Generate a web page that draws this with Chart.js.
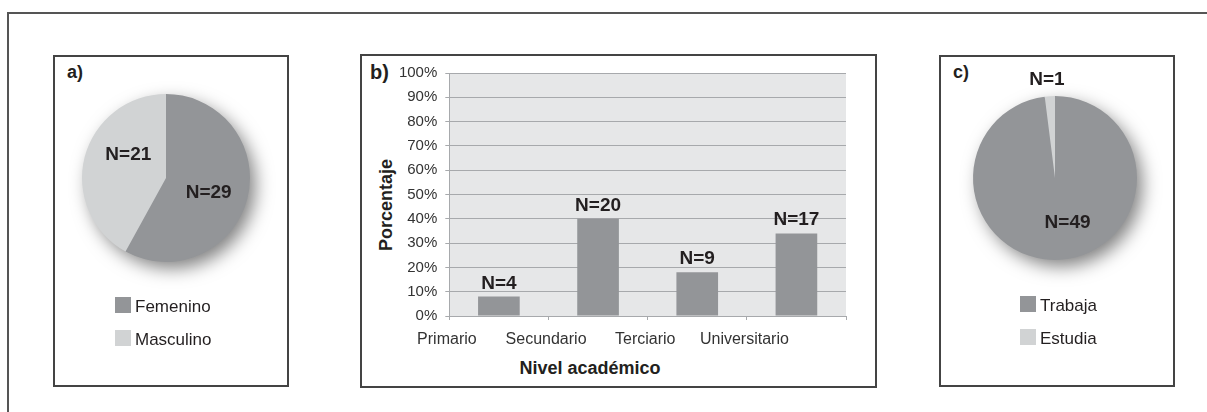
<!DOCTYPE html>
<html>
<head>
<meta charset="utf-8">
<script src="https://cdn.jsdelivr.net/npm/chart.js@4.4.0/dist/chart.umd.min.js"></script>
<style>
  body { margin: 0; width: 1207px; height: 412px; position: relative; overflow: hidden; background: #fff;
         font-family: "Liberation Sans", Arial, sans-serif; color: #231f20; }
  .frame { position: absolute; left: 7px; top: 12px; width: 1220px; height: 420px;
           border-top: 2px solid #555; border-left: 2px solid #555; }
  .panel { position: absolute; border: 2px solid #444; box-sizing: border-box; }
  .bold { position: absolute; font-weight: bold; line-height: 1; white-space: nowrap; }
  canvas { position: absolute; }
  .legend { position: absolute; font-size: 17px; line-height: 1; }
  .legend .row { position: relative; height: 33px; }
  .legend .sw { position: absolute; left: 0; top: 0; width: 16px; height: 16px; }
  .legend .tx { position: absolute; left: 20px; top: 1px; white-space: nowrap; }
</style>
</head>
<body>
<div class="frame"></div>

<div class="panel" style="left:53px;top:55px;width:236px;height:332px"></div>
<div class="panel" style="left:360px;top:54px;width:517px;height:334px"></div>
<div class="panel" style="left:939px;top:55px;width:236px;height:332px"></div>

<div class="bold" style="left:67px;top:63px;font-size:18px">a)</div>
<div class="bold" style="left:370px;top:62px;font-size:20px">b)</div>
<div class="bold" style="left:953px;top:63px;font-size:18px">c)</div>

<div class="bold" style="left:386px;top:205px;font-size:18px;transform:translate(-50%,-50%) rotate(-90deg)">Porcentaje</div>
<div class="bold" style="left:590px;top:359px;font-size:18px;transform:translateX(-50%)">Nivel académico</div>

<canvas id="pieSex" width="240" height="240" style="left:46px;top:58px;width:240px;height:240px"></canvas>
<canvas id="barLevel" width="510" height="300" style="left:362px;top:56px;width:510px;height:300px"></canvas>
<canvas id="pieWork" width="240" height="240" style="left:935px;top:58px;width:240px;height:240px"></canvas>

<div class="legend" id="legendSex" style="left:115px;top:297px"></div>
<div class="legend" id="legendWork" style="left:1020px;top:296px"></div>

<script>
// ---- data ----
const sexLabels = ['Femenino', 'Masculino'];
const sexCounts = [29, 21];

const levelLabels = ['Primario', 'Secundario', 'Terciario', 'Universitario'];
const levelPercent = [8, 40, 18, 34];
const levelCounts = [4, 20, 9, 17];

const workLabels = ['Trabaja', 'Estudia'];
const workCounts = [49, 1];

const pctTicks = [0, 10, 20, 30, 40, 50, 60, 70, 80, 90, 100];

const DARK = '#939598';
const LIGHT = '#d1d3d4';
const GRID = '#a7a9ac';

Chart.defaults.font.family = '"Liberation Sans", Arial, sans-serif';
Chart.defaults.color = '#333';
Chart.defaults.animation = false;

// soft shadow behind the whole pie
const pieShadow = {
  id: 'pieShadow',
  beforeDatasetsDraw(chart) {
    const el = chart.getDatasetMeta(0).data[0];
    const ctx = chart.ctx;
    ctx.save();
    ctx.shadowColor = 'rgba(0,0,0,0.5)';
    ctx.shadowBlur = 18;
    ctx.shadowOffsetX = 6;
    ctx.shadowOffsetY = 7;
    ctx.fillStyle = DARK;
    ctx.beginPath();
    ctx.arc(el.x, el.y, el.outerRadius - 1, 0, Math.PI * 2);
    ctx.fill();
    ctx.restore();
  }
};

// "N=.." labels on slices / above bars
const nLabels = {
  id: 'nLabels',
  afterDatasetsDraw(chart, args, opts) {
    const ctx = chart.ctx;
    const meta = chart.getDatasetMeta(0);
    ctx.save();
    ctx.font = 'bold 19px "Liberation Sans", Arial, sans-serif';
    ctx.fillStyle = '#231f20';
    ctx.textAlign = 'center';
    meta.data.forEach((el, i) => {
      const text = 'N=' + opts.counts[i];
      if (opts.pos) {
        const p = opts.pos[i];
        const mid = (el.startAngle + el.endAngle) / 2;
        const r = el.outerRadius * p.r;
        ctx.textBaseline = 'middle';
        ctx.fillText(text, el.x + Math.cos(mid) * r + p.dx, el.y + Math.sin(mid) * r + p.dy);
      } else {
        ctx.textBaseline = 'alphabetic';
        ctx.fillText(text, el.x, el.y - 8);
      }
    });
    ctx.restore();
  }
};

const plotBg = {
  id: 'plotBg',
  beforeDraw(chart) {
    const { ctx, chartArea: a } = chart;
    ctx.save();
    ctx.fillStyle = '#e6e7e8';
    ctx.fillRect(a.left, a.top, a.width, a.height);
    ctx.restore();
  }
};

function pieChart(id, labels, counts, pad, pos) {
  return new Chart(document.getElementById(id), {
    type: 'pie',
    data: {
      labels: labels,
      datasets: [{ data: counts, backgroundColor: [DARK, LIGHT], borderWidth: 0, hoverOffset: 0, offset: 0 }]
    },
    options: {
      responsive: false,
      layout: { padding: pad },
      plugins: { legend: { display: false }, tooltip: { enabled: false }, nLabels: { counts: counts, pos: pos } }
    },
    plugins: [pieShadow, nLabels]
  });
}

function htmlLegend(id, labels, colors) {
  const box = document.getElementById(id);
  labels.forEach((l, i) => {
    const row = document.createElement('div');
    row.className = 'row';
    row.innerHTML = '<span class="sw" style="background:' + colors[i] + '"></span><span class="tx">' + l + '</span>';
    box.appendChild(row);
  });
}

pieChart('pieSex', sexLabels, sexCounts, 36, [{ r: 0.5, dx: 2, dy: 4 }, { r: 0.5, dx: 3, dy: -13 }]);
pieChart('pieWork', workLabels, workCounts, 38, [{ r: 0.5, dx: 10, dy: 4 }, { r: 1.195, dx: -2, dy: 0 }]);
htmlLegend('legendSex', sexLabels, [DARK, LIGHT]);
htmlLegend('legendWork', workLabels, [DARK, LIGHT]);

new Chart(document.getElementById('barLevel'), {
  type: 'bar',
  data: {
    labels: levelLabels,
    datasets: [{ data: levelPercent, backgroundColor: DARK, borderWidth: 0, categoryPercentage: 1, barPercentage: 0.42 }]
  },
  options: {
    responsive: false,
    layout: { padding: { left: 0, top: 14.7, right: 26, bottom: 0 } },
    scales: {
      y: {
        min: 0, max: 100,
        afterBuildTicks(s) { s.ticks = pctTicks.map(v => ({ value: v })); },
        ticks: { callback: v => v + '%', padding: 8, font: { size: 15 }, color: '#333' },
        grid: { color: GRID, tickLength: 4, lineWidth: 1 },
        border: { color: GRID },
        afterFit(s) { s.width = 87.3; }
      },
      x: {
        grid: { drawOnChartArea: false, tickLength: 4, color: GRID, offset: true },
        border: { color: GRID },
        ticks: { labelOffset: -52, padding: 10, font: { size: 16 }, color: '#333', maxRotation: 0, minRotation: 0, autoSkip: false },
        afterFit(s) { s.height = 40; }
      }
    },
    plugins: { legend: { display: false }, tooltip: { enabled: false }, nLabels: { counts: levelCounts } }
  },
  plugins: [plotBg, nLabels]
});
</script>
</body>
</html>
